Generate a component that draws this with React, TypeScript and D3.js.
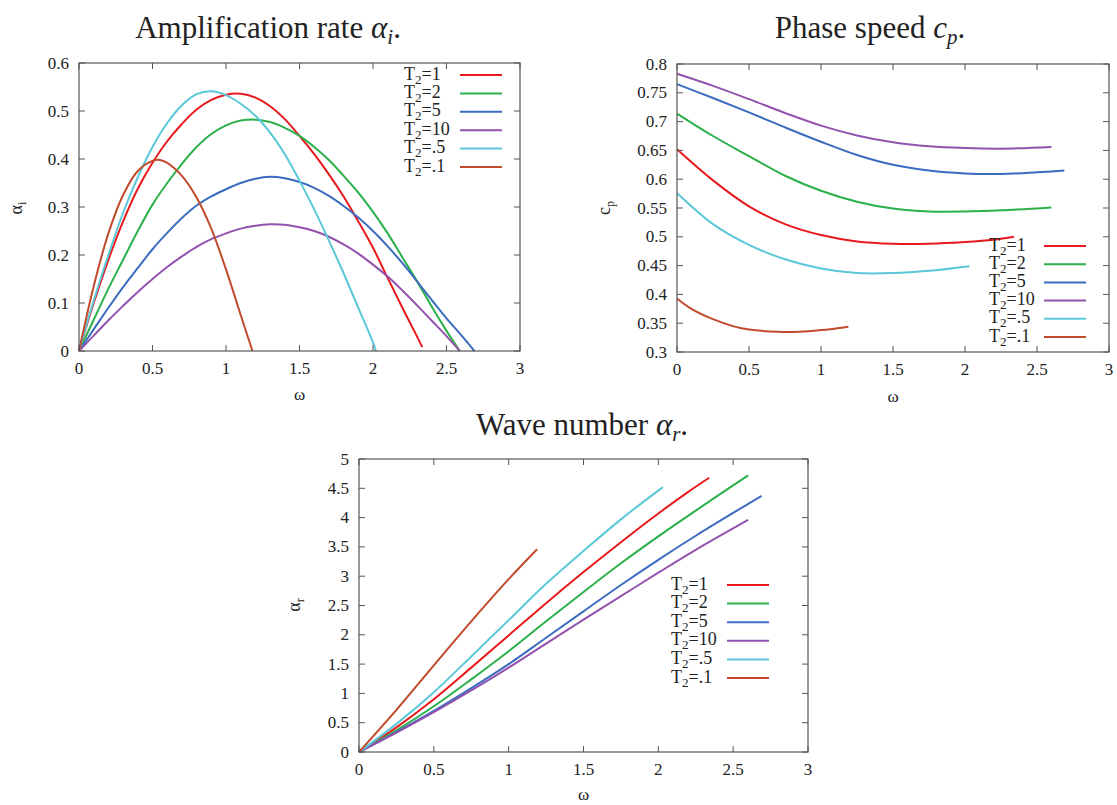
import React from "react";
import * as d3 from "d3";

type Pt = [number, number];

const seriesLabels = ["1", "2", "5", "10", ".5", ".1"];
const seriesColors = ["#e8191c", "#2bb04a", "#3b6cbf", "#9352ae", "#5ac8d8", "#c24a2c"];

// Amplification rate alpha_i vs omega
const ampT1: Pt[] = [[0, 0], [0.1, 0.1], [0.2, 0.19], [0.3, 0.27], [0.4, 0.338], [0.5, 0.392], [0.6, 0.437], [0.7, 0.473], [0.8, 0.503], [0.9, 0.523], [1.0, 0.534], [1.1, 0.536], [1.2, 0.528], [1.3, 0.51], [1.4, 0.483], [1.5, 0.448], [1.6, 0.41], [1.7, 0.368], [1.8, 0.322], [1.9, 0.27], [2.0, 0.215], [2.1, 0.152], [2.2, 0.09], [2.3, 0.03], [2.335, 0.008]];
const ampT2: Pt[] = [[0, 0], [0.1, 0.065], [0.2, 0.13], [0.3, 0.19], [0.4, 0.25], [0.5, 0.305], [0.6, 0.35], [0.7, 0.39], [0.8, 0.425], [0.9, 0.452], [1.0, 0.47], [1.1, 0.48], [1.2, 0.482], [1.3, 0.477], [1.4, 0.465], [1.5, 0.448], [1.6, 0.425], [1.7, 0.398], [1.8, 0.365], [1.9, 0.33], [2.0, 0.29], [2.1, 0.245], [2.2, 0.195], [2.3, 0.145], [2.4, 0.092], [2.5, 0.042], [2.59, 0]];
const ampT5: Pt[] = [[0, 0], [0.1, 0.045], [0.2, 0.09], [0.3, 0.133], [0.4, 0.173], [0.5, 0.212], [0.6, 0.246], [0.7, 0.277], [0.8, 0.303], [0.9, 0.322], [1.0, 0.337], [1.1, 0.35], [1.2, 0.359], [1.3, 0.363], [1.4, 0.36], [1.5, 0.352], [1.6, 0.34], [1.7, 0.323], [1.8, 0.302], [1.9, 0.278], [2.0, 0.25], [2.1, 0.218], [2.2, 0.183], [2.3, 0.145], [2.4, 0.106], [2.5, 0.068], [2.6, 0.033], [2.69, 0]];
const ampT10: Pt[] = [[0, 0], [0.1, 0.032], [0.2, 0.064], [0.3, 0.094], [0.4, 0.123], [0.5, 0.15], [0.6, 0.175], [0.7, 0.197], [0.8, 0.217], [0.9, 0.233], [1.0, 0.245], [1.1, 0.255], [1.2, 0.261], [1.3, 0.264], [1.4, 0.263], [1.5, 0.258], [1.6, 0.25], [1.7, 0.238], [1.8, 0.222], [1.9, 0.203], [2.0, 0.18], [2.1, 0.155], [2.2, 0.126], [2.3, 0.095], [2.4, 0.063], [2.5, 0.031], [2.59, 0]];
const ampT05: Pt[] = [[0, 0], [0.1, 0.105], [0.2, 0.2], [0.3, 0.288], [0.4, 0.362], [0.5, 0.425], [0.6, 0.475], [0.7, 0.512], [0.8, 0.535], [0.9, 0.541], [1.0, 0.533], [1.1, 0.515], [1.2, 0.49], [1.3, 0.455], [1.4, 0.41], [1.5, 0.355], [1.6, 0.295], [1.7, 0.23], [1.8, 0.162], [1.9, 0.09], [2.0, 0.018], [2.02, 0]];
const ampT01: Pt[] = [[0, 0], [0.1, 0.135], [0.2, 0.245], [0.3, 0.325], [0.4, 0.375], [0.5, 0.396], [0.55, 0.398], [0.6, 0.392], [0.7, 0.365], [0.8, 0.32], [0.9, 0.255], [1.0, 0.17], [1.1, 0.075], [1.18, 0]];

// Phase speed c_p vs omega
const cpT1: Pt[] = [[0, 0.652], [0.25, 0.598], [0.5, 0.553], [0.75, 0.522], [1.0, 0.503], [1.25, 0.492], [1.5, 0.488], [1.75, 0.488], [2.0, 0.491], [2.2, 0.495], [2.34, 0.5]];
const cpT2: Pt[] = [[0, 0.714], [0.25, 0.675], [0.5, 0.64], [0.75, 0.606], [1.0, 0.58], [1.25, 0.561], [1.5, 0.549], [1.75, 0.544], [2.0, 0.544], [2.25, 0.546], [2.6, 0.551]];
const cpT5: Pt[] = [[0, 0.765], [0.25, 0.741], [0.5, 0.716], [0.75, 0.69], [1.0, 0.665], [1.25, 0.642], [1.5, 0.625], [1.75, 0.615], [2.0, 0.61], [2.25, 0.609], [2.5, 0.612], [2.69, 0.615]];
const cpT10: Pt[] = [[0, 0.783], [0.25, 0.762], [0.5, 0.739], [0.75, 0.715], [1.0, 0.693], [1.25, 0.676], [1.5, 0.664], [1.75, 0.657], [2.0, 0.654], [2.25, 0.653], [2.6, 0.656]];
const cpT05: Pt[] = [[0, 0.576], [0.25, 0.522], [0.5, 0.486], [0.75, 0.461], [1.0, 0.445], [1.25, 0.437], [1.5, 0.437], [1.75, 0.441], [2.03, 0.449]];
const cpT01: Pt[] = [[0, 0.393], [0.1, 0.375], [0.25, 0.357], [0.4, 0.344], [0.5, 0.339], [0.7, 0.335], [0.85, 0.335], [1.0, 0.338], [1.19, 0.344]];

// Wave number alpha_r vs omega
const arT1: Pt[] = [[0, 0], [0.25, 0.42], [0.5, 0.9], [0.75, 1.44], [1.0, 1.99], [1.25, 2.54], [1.5, 3.07], [1.75, 3.58], [2.0, 4.07], [2.2, 4.44], [2.34, 4.68]];
const arT2: Pt[] = [[0, 0], [0.25, 0.37], [0.5, 0.78], [0.75, 1.24], [1.0, 1.72], [1.25, 2.23], [1.5, 2.73], [1.75, 3.22], [2.0, 3.68], [2.25, 4.12], [2.6, 4.72]];
const arT5: Pt[] = [[0, 0], [0.25, 0.34], [0.5, 0.7], [0.75, 1.09], [1.0, 1.5], [1.25, 1.95], [1.5, 2.4], [1.75, 2.85], [2.0, 3.28], [2.25, 3.69], [2.5, 4.08], [2.69, 4.37]];
const arT10: Pt[] = [[0, 0], [0.25, 0.33], [0.5, 0.68], [0.75, 1.05], [1.0, 1.44], [1.25, 1.85], [1.5, 2.26], [1.75, 2.66], [2.0, 3.06], [2.25, 3.45], [2.6, 3.96]];
const arT05: Pt[] = [[0, 0], [0.25, 0.48], [0.5, 1.02], [0.75, 1.63], [1.0, 2.25], [1.25, 2.87], [1.5, 3.43], [1.75, 3.97], [2.03, 4.52]];
const arT01: Pt[] = [[0, 0], [0.25, 0.72], [0.5, 1.48], [0.75, 2.23], [1.0, 2.95], [1.19, 3.46]];

const xTicks = [0, 0.5, 1, 1.5, 2, 2.5, 3];
const ampTicks = [0, 0.1, 0.2, 0.3, 0.4, 0.5, 0.6];
const cpTicks = [0.3, 0.35, 0.4, 0.45, 0.5, 0.55, 0.6, 0.65, 0.7, 0.75, 0.8];
const arTicks = [0, 0.5, 1, 1.5, 2, 2.5, 3, 3.5, 4, 4.5, 5];

const FONT = "'Liberation Serif', 'DejaVu Serif', serif";

interface PanelProps {
  x0: number; x1: number; y0: number; y1: number;
  yDomain: [number, number];
  yTicks: number[];
  series: Pt[][];
  title: React.ReactNode; titleX: number; titleY: number;
  yLabel: React.ReactNode; yLabelX: number; yLabelY: number;
  xLabelY: number;
  legendX: number; legendLineX0: number; legendLineX1: number; legendY0: number; legendDy: number;
}

function fmt(v: number) {
  if (v === 0) return "0";
  return String(+v.toFixed(2));
}

function Panel(p: PanelProps) {
  const xs = d3.scaleLinear().domain([0, 3]).range([p.x0, p.x1]);
  const ys = d3.scaleLinear().domain(p.yDomain).range([p.y1, p.y0]);
  const line = d3.line<Pt>().x(d => xs(d[0])).y(d => ys(d[1])).curve(d3.curveCatmullRom.alpha(0.5));
  const tl = 6;
  const frame = "#555";
  return (
    <g>
      <text x={p.titleX} y={p.titleY} textAnchor="middle" fontFamily={FONT} fontSize={31} fill="#222">{p.title}</text>
      {p.series.map((s, i) => (
        <path key={i} d={line(s) || ""} fill="none" stroke={seriesColors[i]} strokeWidth={2} strokeLinejoin="round" />
      ))}
      <rect x={p.x0} y={p.y0} width={p.x1 - p.x0} height={p.y1 - p.y0} fill="none" stroke={frame} strokeWidth={1.2} />
      {xTicks.map(t => (
        <g key={"x" + t}>
          <line x1={xs(t)} x2={xs(t)} y1={p.y1} y2={p.y1 - tl} stroke={frame} />
          <line x1={xs(t)} x2={xs(t)} y1={p.y0} y2={p.y0 + tl} stroke={frame} />
          <text x={xs(t)} y={p.y1 + 23} textAnchor="middle" fontFamily={FONT} fontSize={17} fill="#222">{fmt(t)}</text>
        </g>
      ))}
      {p.yTicks.map(t => (
        <g key={"y" + t}>
          <line x1={p.x0} x2={p.x0 + tl} y1={ys(t)} y2={ys(t)} stroke={frame} />
          <line x1={p.x1} x2={p.x1 - tl} y1={ys(t)} y2={ys(t)} stroke={frame} />
          <text x={p.x0 - 10} y={ys(t) + 5.5} textAnchor="end" fontFamily={FONT} fontSize={17} fill="#222">{fmt(t)}</text>
        </g>
      ))}
      <text x={(p.x0 + p.x1) / 2} y={p.xLabelY} textAnchor="middle" fontFamily={FONT} fontSize={17} fill="#222">ω</text>
      <text transform={`translate(${p.yLabelX},${p.yLabelY}) rotate(-90)`} textAnchor="middle" fontFamily={FONT} fontSize={18} fill="#222">{p.yLabel}</text>
      {seriesLabels.map((lab, i) => {
        const cy = p.legendY0 + i * p.legendDy;
        return (
          <g key={"l" + i}>
            <text x={p.legendX} y={cy + 4.5} fontFamily={FONT} fontSize={18} fill="#222">
              T<tspan fontSize={13} dy={4}>2</tspan><tspan dy={-4}>={lab}</tspan>
            </text>
            <line x1={p.legendLineX0} x2={p.legendLineX1} y1={cy} y2={cy} stroke={seriesColors[i]} strokeWidth={2} />
          </g>
        );
      })}
    </g>
  );
}

export default function App() {
  return (
    <svg width={1117} height={805} style={{ position: "absolute", left: 0, top: 0, background: "#fff" }}>
      <Panel
        x0={79} x1={520} y0={63} y1={351}
        yDomain={[0, 0.6]} yTicks={ampTicks}
        series={[ampT1, ampT2, ampT5, ampT10, ampT05, ampT01]}
        title={<>Amplification rate <tspan fontStyle="italic">α</tspan><tspan fontStyle="italic" fontSize={21} dy={6}>i</tspan><tspan dy={-6}>.</tspan></>}
        titleX={268} titleY={38}
        yLabel={<>α<tspan fontSize={12} dy={4}>i</tspan></>} yLabelX={22} yLabelY={208}
        xLabelY={400}
        legendX={404} legendLineX0={460} legendLineX1={502} legendY0={75} legendDy={18.4}
      />
      <Panel
        x0={677} x1={1109} y0={64} y1={352}
        yDomain={[0.3, 0.8]} yTicks={cpTicks}
        series={[cpT1, cpT2, cpT5, cpT10, cpT05, cpT01]}
        title={<>Phase speed <tspan fontStyle="italic">c</tspan><tspan fontStyle="italic" fontSize={21} dy={6}>p</tspan><tspan dy={-6}>.</tspan></>}
        titleX={870} titleY={38}
        yLabel={<>c<tspan fontSize={12} dy={4}>p</tspan></>} yLabelX={610} yLabelY={208}
        xLabelY={402}
        legendX={989} legendLineX0={1044} legendLineX1={1086} legendY0={246} legendDy={18.2}
      />
      <Panel
        x0={359} x1={808} y0={459} y1={752}
        yDomain={[0, 5]} yTicks={arTicks}
        series={[arT1, arT2, arT5, arT10, arT05, arT01]}
        title={<>Wave number <tspan fontStyle="italic">α</tspan><tspan fontStyle="italic" fontSize={21} dy={6}>r</tspan><tspan dy={-6}>.</tspan></>}
        titleX={582} titleY={435}
        yLabel={<>α<tspan fontSize={12} dy={4}>r</tspan></>} yLabelX={300} yLabelY={605}
        xLabelY={800}
        legendX={671} legendLineX0={727} legendLineX1={769} legendY0={585} legendDy={18.6}
      />
    </svg>
  );
}
